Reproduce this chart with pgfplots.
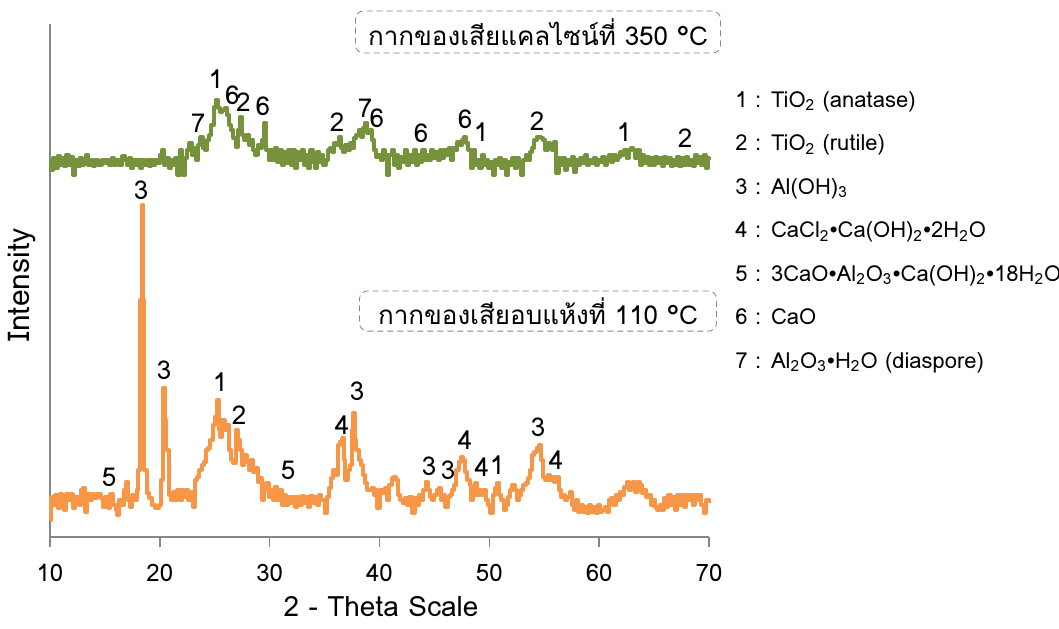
\documentclass[border=0pt]{standalone}
\usepackage{pgfplots}
\pgfplotsset{compat=1.18}
\usepackage{fontspec}
\setmainfont{Loma}
\newfontfamily\thaifont[Script=Thai]{Loma}
\definecolor{xgreen}{HTML}{76923C}
\definecolor{xorange}{HTML}{F79646}
\definecolor{axgray}{HTML}{868686}
\newcommand\bul{\raisebox{0.35ex}{\scriptsize$\bullet$}}
\newcommand\sub[1]{\textsubscript{#1}}

\begin{document}
\begin{tikzpicture}
\useasboundingbox (-25pt,-45.5pt) rectangle (504.5pt,268.5pt);
\begin{axis}[
  at={(0,0)}, anchor=south west,
  scale only axis,
  width=329.5pt, height=256.5pt,
  xmin=10, xmax=70, ymin=0, ymax=513,
  axis lines=left,
  axis line style={-, draw=axgray, line width=0.8pt},
  xtick={10,20,...,70}, ytick=\empty,
  tick align=outside, major tick length=5pt,
  tick style={draw=axgray, line width=0.8pt},
  xticklabel style={font=\fontsize{12}{14}\selectfont, yshift=-5pt},
  /pgf/number format/assume math mode=true,
  clip=false,
  every axis plot/.append style={line width=2pt, line join=round, const plot},
]
% calcined residue, 350 C
\addplot[xgreen] coordinates {
(10.0,377) (10.1,367) (10.3,379) (10.5,369) (10.7,381) (10.9,372) (11.1,379) (11.3,371)
(11.5,382) (11.7,372) (11.9,380) (12.1,362) (12.3,377) (12.5,371) (12.7,379) (12.9,372)
(13.1,377) (13.3,382) (13.5,372) (13.7,377) (13.9,371) (14.1,377) (14.4,372) (14.7,377)
(15.0,374) (15.2,377) (15.4,372) (15.6,379) (15.8,372) (16.0,377) (16.3,372) (16.6,381)
(16.8,377) (17.0,372) (17.2,379) (17.4,369) (17.6,377) (17.8,372) (18.0,377) (18.2,369)
(18.4,377) (18.6,372) (18.8,377) (19.0,371) (19.2,377) (19.4,372) (19.6,377) (19.8,374)
(20.0,382) (20.2,387) (20.4,372) (20.6,379) (20.8,369) (21.0,377) (21.2,372) (21.4,379)
(21.6,362) (21.8,387) (22.0,372) (22.1,362) (22.3,379) (22.5,387) (22.7,394) (22.9,382)
(23.1,389) (23.3,377) (23.5,392) (23.7,400) (23.9,389) (24.1,387) (24.3,397) (24.5,402)
(24.7,412) (24.9,430) (25.1,437) (25.3,429) (25.5,425) (25.7,427) (25.9,429) (26.1,422)
(26.3,412) (26.5,407) (26.7,399) (26.9,390) (27.1,407) (27.3,420) (27.5,402) (27.7,397)
(27.9,402) (28.1,392) (28.3,397) (28.5,387) (28.7,382) (28.9,392) (29.1,389) (29.3,397)
(29.5,414) (29.7,387) (29.9,377) (30.1,387) (30.3,377) (30.5,389) (30.7,375) (30.9,387)
(31.1,372) (31.3,385) (31.5,374) (31.7,387) (31.9,372) (32.1,387) (32.3,369) (32.5,385)
(32.7,377) (32.9,387) (33.1,372) (33.3,382) (33.5,369) (33.7,387) (33.9,375) (34.1,369)
(34.3,385) (34.5,375) (34.7,382) (34.9,372) (35.1,377) (35.3,387) (35.5,389) (35.7,385)
(35.9,394) (36.1,392) (36.3,400) (36.5,389) (36.7,385) (36.9,392) (37.1,387) (37.3,394)
(37.5,389) (37.7,399) (37.9,402) (38.1,407) (38.3,400) (38.5,409) (38.7,414) (38.9,404)
(39.1,407) (39.3,397) (39.5,387) (39.7,380) (39.9,382) (40.1,377) (40.3,387) (40.5,382)
(40.7,362) (40.9,382) (41.1,387) (41.3,372) (41.5,382) (41.7,369) (41.9,380) (42.1,375)
(42.3,387) (42.5,372) (42.7,382) (42.9,375) (43.1,387) (43.3,372) (43.5,382) (43.7,375)
(43.9,387) (44.1,377) (44.3,382) (44.5,377) (44.7,387) (44.9,379) (45.1,385) (45.3,377)
(45.5,387) (45.7,379) (45.9,387) (46.1,382) (46.3,389) (46.5,377) (46.7,389) (46.9,387)
(47.1,395) (47.3,392) (47.5,397) (47.7,400) (47.9,394) (48.1,387) (48.3,369) (48.5,387)
(48.7,372) (48.9,377) (49.1,369) (49.3,382) (49.5,372) (49.7,377) (49.9,369) (50.1,375)
(50.3,362) (50.5,377) (50.7,372) (50.9,379) (51.1,369) (51.3,377) (51.5,362) (51.7,375)
(51.9,372) (52.1,379) (52.3,369) (52.5,379) (52.7,372) (52.9,362) (53.1,377) (53.3,382)
(53.5,377) (53.7,385) (53.9,389) (54.1,397) (54.3,400) (54.5,400) (54.7,399) (54.9,397)
(55.1,387) (55.3,394) (55.5,392) (55.7,387) (55.9,395) (56.1,364) (56.3,379) (56.5,372)
(56.7,379) (56.9,367) (57.1,377) (57.3,372) (57.5,380) (57.7,365) (57.9,377) (58.1,372)
(58.3,379) (58.5,374) (58.7,382) (58.9,372) (59.1,377) (59.3,374) (59.5,379) (59.7,372)
(59.9,377) (60.1,375) (60.3,380) (60.5,372) (60.7,379) (60.9,382) (61.1,375) (61.3,382)
(61.5,377) (61.7,380) (61.9,385) (62.1,382) (62.3,387) (62.5,379) (62.7,387) (62.9,389)
(63.1,387) (63.3,379) (63.5,387) (63.7,372) (63.9,382) (64.1,374) (64.3,380) (64.5,372)
(64.7,379) (64.9,372) (65.1,380) (65.3,374) (65.5,379) (65.7,371) (65.9,380) (66.1,374)
(66.3,379) (66.5,371) (66.7,377) (66.9,372) (67.1,380) (67.3,371) (67.5,379) (67.7,372)
(67.9,380) (68.1,372) (68.3,377) (68.5,371) (68.7,382) (68.9,374) (69.1,380) (69.3,372)
(69.5,382) (69.7,369) (69.9,379) (70.0,377)
};
% dried residue, 110 C
\addplot[xorange] coordinates {
(10.0,17) (10.1,40) (10.3,32) (10.5,42) (10.7,29) (10.9,43) (11.1,35) (11.3,27)
(11.5,43) (11.7,37) (11.9,43) (12.1,29) (12.3,40) (12.6,32) (12.8,47) (13.0,49)
(13.2,25) (13.4,43) (13.6,37) (13.8,43) (14.0,39) (14.3,43) (14.6,39) (14.8,30)
(15.0,40) (15.3,29) (15.5,43) (15.7,32) (16.0,27) (16.1,22) (16.3,37) (16.5,32)
(16.7,47) (16.9,55) (17.1,37) (17.3,30) (17.5,42) (17.7,37) (17.9,47) (18.05,67)
(18.2,237) (18.35,332) (18.5,237) (18.6,67) (18.8,44) (19.0,39) (19.3,32) (19.6,29)
(19.9,32) (20.1,57) (20.3,149) (20.5,117) (20.6,87) (20.8,42) (21.0,37) (21.2,45)
(21.4,37) (21.6,47) (21.8,37) (22.0,47) (22.2,40) (22.4,47) (22.6,37) (22.8,45)
(23.0,30) (23.2,57) (23.4,60) (23.6,67) (23.8,72) (24.0,75) (24.2,87) (24.4,89)
(24.6,97) (24.8,112) (25.0,120) (25.2,137) (25.4,107) (25.5,100) (25.7,117) (25.9,107)
(26.1,112) (26.3,87) (26.5,77) (26.7,74) (26.9,107) (27.1,97) (27.3,87) (27.5,72)
(27.7,82) (27.9,75) (28.1,67) (28.3,77) (28.5,65) (28.7,69) (28.9,55) (29.1,59)
(29.3,37) (29.5,47) (29.7,54) (29.9,40) (30.1,47) (30.3,37) (30.5,50) (30.7,37)
(30.9,47) (31.1,32) (31.3,42) (31.5,32) (31.7,40) (31.9,34) (32.1,40) (32.3,30)
(32.5,40) (32.7,32) (32.9,41) (33.1,34) (33.3,40) (33.5,30) (33.7,41) (33.9,34)
(34.1,40) (34.3,32) (34.5,42) (34.7,37) (35.0,24) (35.2,40) (35.4,49) (35.6,59)
(35.8,67) (36.0,62) (36.2,92) (36.4,95) (36.6,99) (36.8,77) (36.9,57) (37.1,67)
(37.3,72) (37.5,107) (37.6,124) (37.8,97) (37.9,87) (38.1,77) (38.3,72) (38.5,62)
(38.7,54) (38.9,47) (39.1,47) (39.3,49) (39.5,42) (39.7,47) (39.8,29) (40.0,47)
(40.3,44) (40.5,49) (40.7,37) (40.9,52) (41.1,59) (41.3,60) (41.5,57) (41.7,42)
(41.9,37) (42.1,34) (42.3,39) (42.5,32) (42.7,40) (43.0,24) (43.2,39) (43.4,32)
(43.6,42) (43.8,37) (44.0,47) (44.2,55) (44.4,47) (44.6,40) (44.8,37) (45.0,42)
(45.2,47) (45.4,49) (45.6,37) (45.8,42) (46.0,30) (46.2,40) (46.4,42) (46.6,47)
(46.8,52) (47.0,67) (47.2,75) (47.4,80) (47.6,77) (47.8,65) (48.0,57) (48.2,52)
(48.3,37) (48.5,42) (48.7,54) (48.9,42) (49.1,47) (49.3,42) (49.5,47) (49.7,37)
(49.9,32) (50.1,24) (50.3,42) (50.5,49) (50.7,54) (50.9,42) (51.1,37) (51.3,27)
(51.5,32) (51.7,40) (51.9,47) (52.1,52) (52.3,47) (52.5,37) (52.7,42) (52.9,47)
(53.1,52) (53.3,54) (53.5,59) (53.7,67) (53.9,82) (54.1,85) (54.3,89) (54.5,92)
(54.7,77) (54.9,60) (55.1,57) (55.3,62) (55.5,57) (55.7,60) (55.9,55) (56.1,60)
(56.3,47) (56.5,40) (56.7,42) (56.9,37) (57.1,40) (57.3,45) (57.5,32) (57.7,27)
(57.9,37) (58.1,25) (58.3,32) (58.5,25) (58.7,30) (58.9,24) (59.1,32) (59.3,25)
(59.5,30) (59.7,24) (59.9,32) (60.1,25) (60.3,27) (60.5,30) (60.7,25) (60.9,37)
(61.1,39) (61.3,32) (61.5,42) (61.7,37) (61.9,45) (62.1,42) (62.3,50) (62.5,55)
(62.7,47) (62.9,52) (63.1,55) (63.3,45) (63.5,55) (63.7,52) (63.9,44) (64.1,47)
(64.3,40) (64.5,42) (64.7,32) (64.9,37) (65.1,30) (65.3,27) (65.5,32) (65.7,27)
(65.9,39) (66.1,30) (66.3,42) (66.5,32) (66.7,40) (66.9,27) (67.1,42) (67.3,32)
(67.5,42) (67.7,30) (67.9,42) (68.1,37) (68.3,42) (68.5,32) (68.7,42) (68.9,37)
(69.1,42) (69.3,32) (69.5,24) (69.7,37) (70.0,34)
};
% peak labels
\begin{scope}[every node/.style={font=\fontsize{13}{15}\selectfont, inner sep=0pt}]
\node at (axis cs:23.48,414) {7};
\node at (axis cs:25.1,458) {1};
\node at (axis cs:26.6,442) {6};
\node at (axis cs:27.6,435) {2};
\node at (axis cs:29.39,431) {6};
\node at (axis cs:36.13,415) {2};
\node at (axis cs:38.68,429) {7};
\node at (axis cs:39.77,419) {6};
\node at (axis cs:43.78,404) {6};
\node at (axis cs:47.79,418) {6};
\node at (axis cs:49.24,405) {1};
\node at (axis cs:54.34,416) {2};
\node at (axis cs:62.26,405) {1};
\node at (axis cs:67.82,399) {2};
\node at (axis cs:15.37,60) {5};
\node at (axis cs:18.29,347) {3};
\node at (axis cs:20.38,167) {3};
\node at (axis cs:25.48,155) {1};
\node at (axis cs:27.21,122) {2};
\node at (axis cs:31.67,67) {5};
\node at (axis cs:36.59,112) {4};
\node at (axis cs:37.95,146) {3};
\node at (axis cs:44.51,71) {3};
\node at (axis cs:46.24,67) {3};
\node at (axis cs:47.79,97) {4};
\node at (axis cs:49.33,70) {4};
\node at (axis cs:50.70,72) {1};
\node at (axis cs:54.43,110) {3};
\node at (axis cs:56.07,77) {4};
\end{scope}
\end{axis}
% axis titles
\node[font=\fontsize{14}{16}\selectfont, inner sep=1pt] at (165.5pt,-35pt) {2 - Theta Scale};
\node[font=\fontsize{15}{17}\selectfont, rotate=90] at (-14pt,126pt) {Intensity};
% sample boxes
\node[draw=axgray, densely dashed, rounded corners=4pt, minimum width=182.5pt, minimum height=21pt,
  font=\thaifont\fontsize{13}{15}\selectfont] at (244pt,252.5pt) {กากของเสียแคลไซน์ที่ 350 °C};
\node[draw=axgray, densely dashed, rounded corners=4pt, minimum width=178.5pt, minimum height=19pt,
  font=\thaifont\fontsize{13}{15}\selectfont] at (244pt,113pt) {กากของเสียอบแห้งที่ 110 °C};
% phase key
\begin{scope}[every node/.style={anchor=base west, inner sep=0pt, font=\fontsize{11}{13}\selectfont}]
\node at (342.5pt,215pt) {1 : TiO\sub{2} (anatase)};
\node at (342.5pt,193.25pt) {2 : TiO\sub{2} (rutile)};
\node at (342.5pt,171.5pt) {3 : Al(OH)\sub{3}};
\node at (342.5pt,149.75pt) {4 : CaCl\sub{2}\bul Ca(OH)\sub{2}\bul 2H\sub{2}O};
\node at (342.5pt,128pt) {5 : 3CaO\bul Al\sub{2}O\sub{3}\bul Ca(OH)\sub{2}\bul 18H\sub{2}O};
\node at (342.5pt,106.25pt) {6 : CaO};
\node at (342.5pt,84.5pt) {7 : Al\sub{2}O\sub{3}\bul H\sub{2}O (diaspore)};
\end{scope}
\end{tikzpicture}
\end{document}
